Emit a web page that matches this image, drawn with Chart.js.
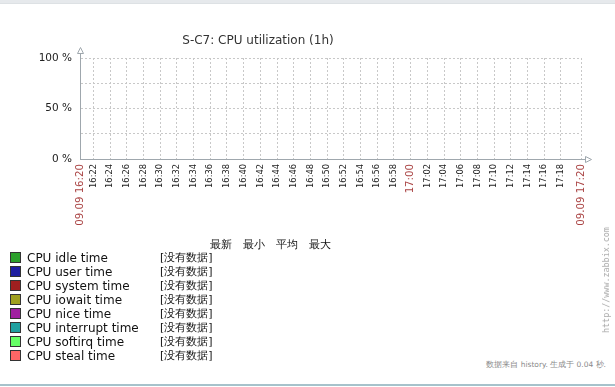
<!DOCTYPE html>
<html>
<head>
<meta charset="utf-8">
<script src="https://cdn.jsdelivr.net/npm/chart.js@4.4.1/dist/chart.umd.min.js"></script>
<style>
  body { margin: 0; width: 615px; height: 387px; background: #fff; overflow: hidden; position: relative; font-family: 'DejaVu Sans', sans-serif; }
  #topbar { position: absolute; left: 0; top: 0; width: 615px; height: 3px; background: #e6e9ec; border-bottom: 1px solid #dde1e4; }
  #bottomline { position: absolute; left: 0; top: 384px; width: 615px; height: 2px; background: #a6c2cb; }
  #chartbox { position: absolute; left: 0; top: 0; width: 615px; height: 240px; }
  .txt { position: absolute; white-space: nowrap; line-height: 14px; }
  #title { left: 258px; top: 33px; font-size: 12px; color: #333; transform: translateX(-50%); }
  .sq { position: absolute; width: 9px; height: 9px; border: 1px solid #333; }
  #url { left: 606px; top: 280px; font-family: 'DejaVu Sans Mono', monospace; font-size: 8.4px; color: #aaa; transform: translate(-50%, -50%) rotate(-90deg); line-height: 10px; }
  #footer { right: 9px; top: 358px; font-size: 7.5px; color: #8a8a8a; }
</style>
</head>
<body>
<div id="topbar"></div>
<div id="chartbox"><canvas id="chart" width="615" height="240"></canvas></div>
<div class="txt" id="title">S-C7: CPU utilization (1h)</div>
<div id="legend"></div>
<div class="txt" id="url">http://www.zabbix.com</div>
<div class="txt" id="footer">数据来自 history. 生成于 0.04 秒.</div>
<div id="bottomline"></div>
<script>
// Graph period and time ticks
const startLabel = '09.09 16:20';
const endLabel = '09.09 17:20';
const timeTicks = ['16:22', '16:24', '16:26', '16:28', '16:30', '16:32', '16:34', '16:36', '16:38', '16:40',
                   '16:42', '16:44', '16:46', '16:48', '16:50', '16:52', '16:54', '16:56', '16:58', '17:00',
                   '17:02', '17:04', '17:06', '17:08', '17:10', '17:12', '17:14', '17:16', '17:18'];
const yTicks = [0, 25, 50, 75, 100];
const yLabels = ['0 %', '', '50 %', '', '100 %'];

// Series (no data in this period)
const seriesNames = ['CPU idle time', 'CPU user time', 'CPU system time', 'CPU iowait time',
                     'CPU nice time', 'CPU interrupt time', 'CPU softirq time', 'CPU steal time'];
const seriesData = [[], [], [], [], [], [], [], []];
const seriesColors = ['#2ca02c', '#1f1fa0', '#a01f1f', '#a0a01f', '#a01fa0', '#1fa0a0', '#66ff66', '#ff6666'];

const legendHeader = ['最新', '最小', '平均', '最大'];
const noData = '[没有数据]';

// minutes since 16:20, window is shifted a bit past the full minute
const xMin = 0.4;
const xMax = 60.4;
const toMinutes = s => {
    const [h, m] = s.split(':').map(Number);
    return (h - 16) * 60 + m - 20;
};
const mainTicks = ['17:00'];

const axisColor = '#9fa7ad';
const gridColor = '#c8c8c8';
const red = '#aa4444';

const labelFor = v => {
    if (v === xMin) return startLabel;
    if (v === xMax) return endLabel;
    return timeTicks.find(t => toMinutes(t) === v) || '';
};
const isRed = ctx => {
    if (!ctx || !ctx.tick) return false;
    const v = ctx.tick.value;
    return v === xMin || v === xMax || mainTicks.includes(labelFor(v));
};

const axisArrows = {
    id: 'axisArrows',
    afterDraw(chart) {
        const { ctx, chartArea } = chart;
        const x0 = chartArea.left, y0 = chartArea.bottom;
        ctx.save();
        ctx.strokeStyle = axisColor;
        ctx.fillStyle = '#fff';
        ctx.lineWidth = 1;
        // y axis extension + arrow
        ctx.beginPath();
        ctx.moveTo(x0 + 0.5, chartArea.top);
        ctx.lineTo(x0 + 0.5, 53);
        ctx.stroke();
        ctx.beginPath();
        ctx.moveTo(x0 + 0.5, 47.5);
        ctx.lineTo(x0 + 3.5, 53.5);
        ctx.lineTo(x0 - 2.5, 53.5);
        ctx.closePath();
        ctx.fill();
        ctx.stroke();
        // x axis extension + arrow
        ctx.beginPath();
        ctx.moveTo(chartArea.right, y0 + 0.5);
        ctx.lineTo(585, y0 + 0.5);
        ctx.stroke();
        ctx.beginPath();
        ctx.moveTo(591.5, y0 + 0.5);
        ctx.lineTo(585.5, y0 + 3.5);
        ctx.lineTo(585.5, y0 - 2.5);
        ctx.closePath();
        ctx.fill();
        ctx.stroke();
        ctx.restore();
    }
};

new Chart(document.getElementById('chart').getContext('2d'), {
    type: 'line',
    data: {
        datasets: seriesNames.map((name, i) => ({
            label: name,
            data: seriesData[i],
            borderColor: seriesColors[i],
            backgroundColor: seriesColors[i],
            pointRadius: 0,
            borderWidth: 1
        }))
    },
    options: {
        responsive: false,
        animation: false,
        layout: { padding: { top: 58, right: 34, left: 0, bottom: 0 } },
        plugins: { legend: { display: false }, tooltip: { enabled: false } },
        scales: {
            x: {
                type: 'linear',
                min: xMin,
                max: xMax,
                afterBuildTicks: scale => {
                    scale.ticks = [xMin, ...timeTicks.map(toMinutes), xMax].map(v => ({ value: v }));
                },
                afterFit: scale => { scale.height = 81; },
                grid: { color: gridColor, drawTicks: false },
                border: { color: axisColor, dash: [2, 2] },
                ticks: {
                    autoSkip: false,
                    minRotation: 90,
                    maxRotation: 90,
                    padding: 5,
                    callback: v => labelFor(v),
                    color: ctx => isRed(ctx) ? red : '#222',
                    font: ctx => ({ family: 'DejaVu Sans', size: isRed(ctx) ? 10.2 : 8.3 })
                }
            },
            y: {
                min: 0,
                max: 100,
                afterBuildTicks: scale => {
                    scale.ticks = yTicks.map(v => ({ value: v }));
                },
                afterFit: scale => { scale.width = 80; },
                grid: { color: gridColor, drawTicks: false },
                border: { color: axisColor, dash: [2, 2] },
                ticks: {
                    padding: 8,
                    color: '#222',
                    font: { family: 'DejaVu Sans', size: 10.5 },
                    callback: v => yLabels[yTicks.indexOf(v)]
                }
            }
        }
    },
    plugins: [axisArrows]
});

// Legend table
const legend = document.getElementById('legend');
const headerX = [214, 247, 280, 313];
legendHeader.forEach((h, i) => {
    const d = document.createElement('div');
    d.className = 'txt';
    d.style.cssText = `left:${headerX[i] - 4}px;top:238px;font-size:11px;color:#111;`;
    d.textContent = h;
    legend.appendChild(d);
});
seriesNames.forEach((name, i) => {
    const sq = document.createElement('div');
    sq.className = 'sq';
    sq.style.cssText = `left:10px;top:${252 + 14 * i}px;background:${seriesColors[i]};`;
    legend.appendChild(sq);
    const t = document.createElement('div');
    t.className = 'txt';
    t.style.cssText = `left:27px;top:${251 + 14 * i}px;font-size:12px;color:#111;`;
    t.textContent = name;
    legend.appendChild(t);
    const n = document.createElement('div');
    n.className = 'txt';
    n.style.cssText = `left:160px;top:${251 + 14 * i}px;font-size:11px;color:#111;`;
    n.textContent = noData;
    legend.appendChild(n);
});
</script>
</body>
</html>
